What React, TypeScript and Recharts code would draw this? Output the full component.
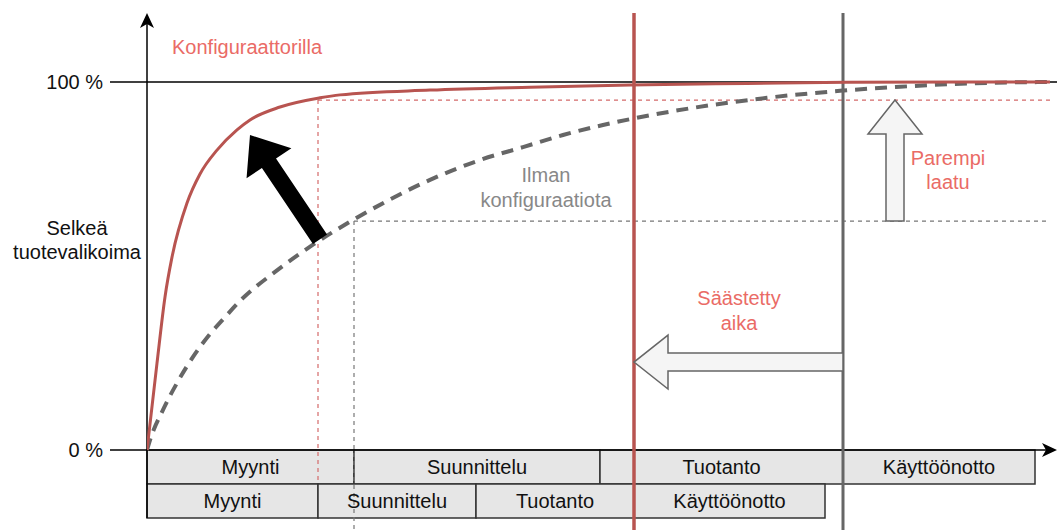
import { ComposedChart, Line, XAxis, YAxis, ReferenceLine, ReferenceArea, ReferenceDot } from 'recharts'

// x runs in "time units" (0..91), y in percent
const configX = [0, 1.0, 1.8, 2.5, 4.0, 5.3, 7.0, 9.0, 10.3, 13.3, 17.3, 19.3, 28.3, 38.3, 48.3, 60, 70, 90.3]
const configY = [0, 23.6, 41.6, 52.4, 67.1, 75.0, 81.5, 87.0, 89.7, 93.2, 95.7, 96.5, 97.8, 98.6, 99.2, 99.6, 99.9, 100]

const manualX = [0, 0.3, 1.6, 3.0, 4.6, 6.3, 7.6, 9.3, 13.0, 16.6, 20.6, 28.3, 33.3, 37.6, 41.6, 45.6, 48.3, 52.0, 56.6, 62.0, 69.3, 75.3, 82.0, 90.3]
const manualY = [0, 2.7, 10.9, 18.2, 25.3, 31.5, 35.5, 40.5, 48.8, 55.8, 62.5, 73.4, 78.8, 82.3, 85.6, 88.3, 89.9, 91.8, 93.8, 95.7, 97.6, 98.7, 99.6, 100]

const phaseNames = ['Myynti', 'Suunnittelu', 'Tuotanto', 'Käyttöönotto']
const manualPhaseEnds = [20.7, 45.3, 69.6, 88.8]
const configPhaseEnds = [17.1, 32.9, 48.7, 67.8]

const configLevel = 95.1
const manualLevel = 62.2
const yTicks = [0, 100]

const RED = '#b85450'
const RED_TEXT = '#ea6b66'
const GRAY = '#666666'
const FONT = '"Liberation Sans", Arial, sans-serif'

const X_DOMAIN: [number, number] = [0, 91]
const Y_DOMAIN: [number, number] = [-21.74, 118.75]
const ROW_H = 9.24

const configData = configX.map((x, i) => ({ x, y: configY[i] }))
const manualData = manualX.map((x, i) => ({ x, y: manualY[i] }))

const toBoxes = (ends: number[], y1: number, y2: number) =>
  ends.map((end, i) => ({ name: phaseNames[i], x1: i === 0 ? 0 : ends[i - 1], x2: end, y1, y2 }))

const manualBoxes = toBoxes(manualPhaseEnds, -ROW_H, 0)
const configBoxes = toBoxes(configPhaseEnds, -2 * ROW_H, -ROW_H)

function arrowPoints(x1: number, y1: number, x2: number, y2: number, head: number, hw: number, sw: number) {
  const len = Math.hypot(x2 - x1, y2 - y1) || 1
  const ux = (x2 - x1) / len
  const uy = (y2 - y1) / len
  const nx = -uy
  const ny = ux
  const bx = x2 - ux * head
  const by = y2 - uy * head
  const pts = [
    [x1 + nx * sw, y1 + ny * sw],
    [bx + nx * sw, by + ny * sw],
    [bx + nx * hw, by + ny * hw],
    [x2, y2],
    [bx - nx * hw, by - ny * hw],
    [bx - nx * sw, by - ny * sw],
    [x1 - nx * sw, y1 - ny * sw],
  ]
  return pts.map((p) => p.join(',')).join(' ')
}

const BlackArrow = (props: any) => (
  <polygon points={arrowPoints(props.x1, props.y1, props.x2, props.y2, 34, 27, 8.5)} fill="#000" />
)

const HollowArrow = (props: any) => (
  <polygon
    points={arrowPoints(props.x1, props.y1, props.x2, props.y2, 34, 27, 9)}
    fill="#f5f5f5"
    stroke="#666"
    strokeWidth={1.5}
    strokeLinejoin="miter"
  />
)

const AxisArrow = (props: any) => {
  const { x1, y1, x2, y2 } = props
  const len = Math.hypot(x2 - x1, y2 - y1) || 1
  const ux = (x2 - x1) / len
  const uy = (y2 - y1) / len
  const nx = -uy
  const ny = ux
  const L = 15
  const W = 7
  const bx = x2 - ux * L
  const by = y2 - uy * L
  const pts = [
    [x2, y2],
    [bx + nx * W, by + ny * W],
    [x2 - ux * (L - 4), y2 - uy * (L - 4)],
    [bx - nx * W, by - ny * W],
  ]
  return (
    <g>
      <line x1={x1} y1={y1} x2={x2 - ux * 8} y2={y2 - uy * 8} stroke="#000" strokeWidth={1.5} />
      <polygon points={pts.map((p) => p.join(',')).join(' ')} fill="#000" />
    </g>
  )
}

const textShape = (lines: string[], color: string, anchor: 'start' | 'middle' | 'end' = 'middle', gap = 24) =>
  (props: any) => (
    <text x={props.cx} y={props.cy} fill={color} fontSize={20} fontFamily={FONT} textAnchor={anchor} dominantBaseline="central">
      {lines.map((l, i) => (
        <tspan key={l} x={props.cx} dy={i === 0 ? 0 : gap}>
          {l}
        </tspan>
      ))}
    </text>
  )

export default function App() {
  return (
    <div style={{ position: 'absolute', left: 0, top: 0, width: 1058, height: 530, background: '#fff', fontFamily: FONT }}>
      <ComposedChart width={1058} height={530} margin={{ top: 13, right: 1, bottom: 0, left: 0 }}>
        <XAxis type="number" dataKey="x" domain={X_DOMAIN} hide allowDataOverflow />
        <YAxis
          type="number"
          domain={Y_DOMAIN}
          ticks={yTicks}
          interval={0}
          width={147}
          axisLine={false}
          tickSize={37}
          tickMargin={7}
          tickLine={{ stroke: '#000', strokeWidth: 1.5 }}
          tick={{ fill: '#111', fontSize: 20, fontFamily: FONT }}
          tickFormatter={(v: number) => `${v} %`}
          allowDataOverflow
        />

        {[...manualBoxes, ...configBoxes].map((b) => (
          <ReferenceArea
            key={`${b.name}-${b.y1}`}
            x1={b.x1}
            x2={b.x2}
            y1={b.y1}
            y2={b.y2}
            fill="#e6e6e6"
            fillOpacity={1}
            stroke="#333"
            strokeWidth={1.5}
            zIndex={100}
            label={{ value: b.name, position: 'center', fill: '#111', fontSize: 20, fontFamily: FONT }}
          />
        ))}

        {/* guide lines */}
        <ReferenceLine
          segment={[{ x: configPhaseEnds[0], y: configLevel }, { x: 90.3, y: configLevel }]}
          stroke="#d46a6a" strokeWidth={1.2} strokeDasharray="4 4" zIndex={150}
        />
        <ReferenceLine
          segment={[{ x: configPhaseEnds[0], y: configLevel }, { x: configPhaseEnds[0], y: -ROW_H }]}
          stroke="#d46a6a" strokeWidth={1.2} strokeDasharray="4 4" zIndex={150}
        />
        <ReferenceLine
          segment={[{ x: manualPhaseEnds[0], y: manualLevel }, { x: 90.3, y: manualLevel }]}
          stroke="#777" strokeWidth={1.2} strokeDasharray="4 4" zIndex={150}
        />
        <ReferenceLine
          segment={[{ x: manualPhaseEnds[0], y: manualLevel }, { x: manualPhaseEnds[0], y: Y_DOMAIN[0] }]}
          stroke="#777" strokeWidth={1.2} strokeDasharray="4 4" zIndex={150}
        />

        <ReferenceLine y={100} stroke="#000" strokeWidth={1.5} zIndex={200} />
        <ReferenceLine segment={[{ x: 0, y: 0 }, { x: 91, y: 0 }]} shape={AxisArrow} zIndex={210} />
        <ReferenceLine segment={[{ x: 0, y: -2 * ROW_H }, { x: 0, y: Y_DOMAIN[1] }]} shape={AxisArrow} zIndex={210} />

        <ReferenceLine x={configPhaseEnds[2]} stroke={RED} strokeWidth={3.5} zIndex={300} />
        <ReferenceLine x={manualPhaseEnds[2]} stroke={GRAY} strokeWidth={3} zIndex={300} />

        <Line
          data={manualData}
          dataKey="y"
          type="monotone"
          stroke={GRAY}
          strokeWidth={4}
          strokeDasharray="12 8"
          dot={false}
          activeDot={false}
          isAnimationActive={false}
          zIndex={400}
        />
        <Line
          data={configData}
          dataKey="y"
          type="monotone"
          stroke={RED}
          strokeWidth={3}
          dot={false}
          activeDot={false}
          isAnimationActive={false}
          zIndex={410}
        />

        {/* arrows */}
        <ReferenceLine segment={[{ x: 17.3, y: 57.3 }, { x: 10.3, y: 85.6 }]} shape={BlackArrow} zIndex={600} />
        <ReferenceLine segment={[{ x: 74.8, y: manualLevel }, { x: 74.8, y: configLevel }]} shape={HollowArrow} zIndex={600} />
        <ReferenceLine segment={[{ x: manualPhaseEnds[2], y: 23.9 }, { x: configPhaseEnds[2], y: 23.9 }]} shape={HollowArrow} zIndex={600} />

        {/* texts */}
        <ReferenceDot x={2.5} y={109.5} r={0} ifOverflow="visible" shape={textShape(['Konfiguraattorilla'], RED_TEXT, 'start')} zIndex={700} />
        <ReferenceDot x={-7.0} y={60.3} r={0} ifOverflow="visible" shape={textShape(['Selkeä', 'tuotevalikoima'], '#111')} zIndex={700} />
        <ReferenceDot x={39.9} y={74.7} r={0} ifOverflow="visible" shape={textShape(['Ilman', 'konfiguraatiota'], '#888', 'middle', 25)} zIndex={700} />
        <ReferenceDot x={80.1} y={79.3} r={0} ifOverflow="visible" shape={textShape(['Parempi', 'laatu'], RED_TEXT)} zIndex={700} />
        <ReferenceDot x={59.2} y={41.3} r={0} ifOverflow="visible" shape={textShape(['Säästetty', 'aika'], RED_TEXT, 'middle', 25)} zIndex={700} />
      </ComposedChart>
    </div>
  )
}
